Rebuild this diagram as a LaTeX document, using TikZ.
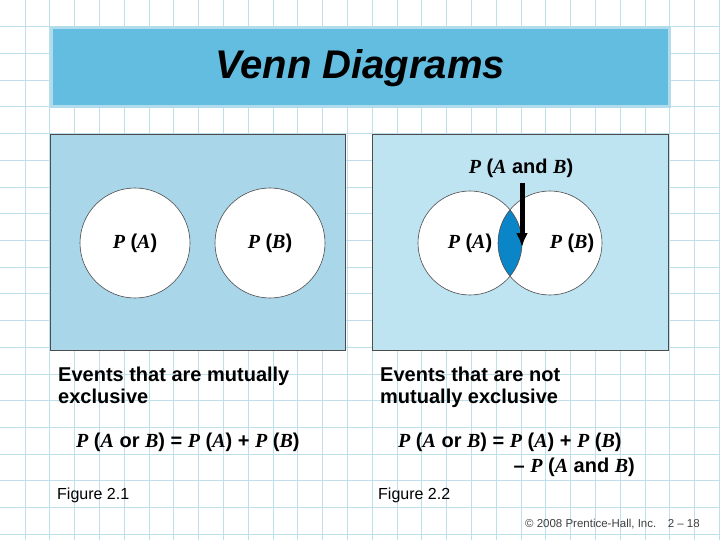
\documentclass[tikz,border=0pt]{standalone}
\usepackage{fontspec}
\usetikzlibrary{arrows.meta}
\setmainfont{Liberation Sans}
\newfontfamily\serifit{Liberation Serif}
\definecolor{titlebd}{RGB}{176,220,236}
\definecolor{titlefill}{RGB}{98,189,224}
\definecolor{leftfill}{RGB}{170,214,234}
\definecolor{rightfill}{RGB}{190,227,241}
\definecolor{lensfill}{RGB}{10,134,200}
\definecolor{gridcol}{RGB}{190,222,234}
\begin{document}
\begin{tikzpicture}[x=1pt,y=-1pt,
  txt/.style={font=\fontsize{20}{22}\selectfont\bfseries},
  lbl/.style={txt,align=left,anchor=north west,inner sep=0},
  eq/.style={txt,anchor=west,inner sep=0},
  circ/.style={draw=black!70,fill=white,line width=0.6pt}]
\newcommand\Pv[1]{{\serifit\bfseries\itshape P} (#1)}
\newcommand\Vi[1]{{\serifit\bfseries\itshape #1}}
\useasboundingbox (0,0) rectangle (720,540);
\fill[white] (0,0) rectangle (720,540);
\foreach \i in {1,...,29} \draw[gridcol,line width=0.6pt] (\i*24.8,0) -- (\i*24.8,540);
\foreach \j in {1,...,20} \draw[gridcol,line width=0.6pt] (0,\j*26.7) -- (720,\j*26.7);
\draw[draw=titlebd,line width=3pt,fill=titlefill] (51,28) rectangle (669,107);
\node[font=\fontsize{40}{44}\selectfont\bfseries\itshape] (title) at (360,68) {Venn Diagrams};
\draw[black!70,fill=leftfill] (50,134) rectangle (345,350);
\draw[black!70,fill=rightfill] (372,134) rectangle (668,350);
\node[circ,circle,minimum size=110] (a1) at (135,243) {};
\node[circ,circle,minimum size=110] (b1) at (270,243) {};
\node[txt] at (a1) {\Pv{\Vi{A}}};
\node[txt] at (b1) {\Pv{\Vi{B}}};
\fill[white] (470,243) circle (52) (550,243) circle (52);
\begin{scope}
\clip (470,243) circle (52);
\fill[lensfill] (550,243) circle (52);
\end{scope}
\draw[black!70,line width=0.6pt] (470,243) circle (52);
\draw[black!70,line width=0.6pt] (550,243) circle (52);
\node[txt] (a2) at (470,243) {\Pv{\Vi{A}}};
\node[txt] (b2) at (572,243) {\Pv{\Vi{B}}};
\node[txt] (ab) at (521,168) {\Pv{\Vi{A} and \Vi{B}}};
\coordinate (tip) at (522,247);
\draw[line width=5pt,-{Latex[length=14pt,width=12pt]}] (ab.south) ++(1,2) -- (tip);
\node[lbl] (e1) at (58,367) {Events that are mutually\\exclusive};
\node[lbl] (e2) at (380,367) {Events that are not\\mutually exclusive};
\node[eq] (q1) at (76,442) {\Pv{\Vi{A} or \Vi{B}} = \Pv{\Vi{A}} + \Pv{\Vi{B}}};
\node[eq] (q2) at (398,442) {\Pv{\Vi{A} or \Vi{B}} = \Pv{\Vi{A}} + \Pv{\Vi{B}}};
\node[eq,anchor=east] (q3) at (635,467) {-- \Pv{\Vi{A} and \Vi{B}}};
\node[font=\fontsize{16}{18}\selectfont,anchor=west,inner sep=0] (f1) at (57,495) {Figure 2.1};
\node[font=\fontsize{16}{18}\selectfont,anchor=west,inner sep=0] (f2) at (378,495) {Figure 2.2};
\node[font=\fontsize{11.5}{13}\selectfont,anchor=east,inner sep=0,text=black!75] (c) at (700,524) {© 2008 Prentice-Hall, Inc.\quad 2 -- 18};
\end{tikzpicture}
\end{document}
